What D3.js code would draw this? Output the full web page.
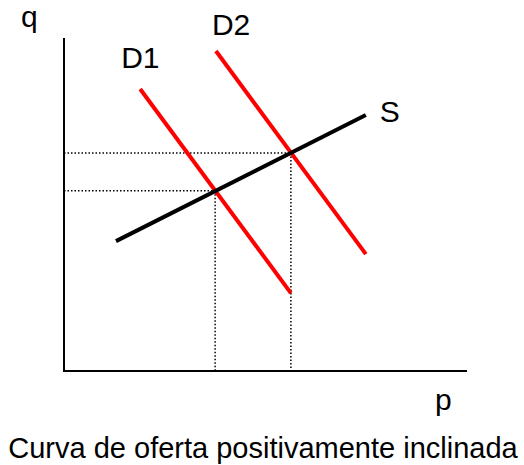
<!DOCTYPE html>
<head>
  <meta charset="utf-8">
  <script src="https://d3js.org/d3.v7.min.js"></script>
  <style>
    body { margin:0; background:#fff; }
    text { font-family: "Liberation Sans", Arial, sans-serif; fill:#000; }
  </style>
</head>
<body>
<script>

// curves, in chart units (0..100 on both axes)
var supply  = [ {x: 12.9, y: 39.0}, {x: 74.9, y: 76.9} ];
var demand1 = [ {x: 18.9, y: 84.7}, {x: 56.3, y: 23.4} ];
var demand2 = [ {x: 37.7, y: 96.1}, {x: 74.9, y: 35.1} ];
// equilibrium points (where the dotted guides go)
var equilibria = [ {x: 37.5, y: 54.1}, {x: 56.3, y: 65.5} ];
var curveLabels = ["D1", "D2", "S"];

var width = 524, height = 465;

var x = d3.scaleLinear().domain([0, 100]).range([64, 467]);
var y = d3.scaleLinear().domain([0, 100]).range([371, 38]);

var svg = d3.select("body").append("svg")
  .attr("width", width)
  .attr("height", height);

var line = d3.line()
  .x(function(d) { return x(d.x); })
  .y(function(d) { return y(d.y); });

// dotted guides
var guides = svg.append("g")
  .attr("stroke", "#000")
  .attr("stroke-width", 1.5)
  .attr("stroke-dasharray", "1.5,2");

guides.selectAll(".h").data(equilibria).enter().append("line")
  .attr("x1", x(0)).attr("x2", function(d) { return x(d.x); })
  .attr("y1", function(d) { return y(d.y); })
  .attr("y2", function(d) { return y(d.y); });

guides.selectAll(".v").data(equilibria).enter().append("line")
  .attr("x1", function(d) { return x(d.x); })
  .attr("x2", function(d) { return x(d.x); })
  .attr("y1", function(d) { return y(d.y); })
  .attr("y2", y(0));

// axes
svg.append("path")
  .attr("d", "M" + x(0) + "," + y(100) + "V" + y(0) + "H" + x(100))
  .attr("fill", "none")
  .attr("stroke", "#000")
  .attr("stroke-width", 2);

// curves
svg.append("path").datum(demand1)
  .attr("d", line).attr("stroke", "#ff0000").attr("stroke-width", 4).attr("fill", "none");
svg.append("path").datum(demand2)
  .attr("d", line).attr("stroke", "#ff0000").attr("stroke-width", 4).attr("fill", "none");
svg.append("path").datum(supply)
  .attr("d", line).attr("stroke", "#000").attr("stroke-width", 4).attr("fill", "none");

// labels
var fs = 30;
svg.append("text").attr("x", 21).attr("y", 27).attr("font-size", fs).text("q");
svg.append("text").attr("x", 435).attr("y", 410).attr("font-size", fs).text("p");
svg.append("text").attr("x", x(demand1[0].x) - 19).attr("y", 68).attr("font-size", fs).text(curveLabels[0]);
svg.append("text").attr("x", x(demand2[0].x) - 4).attr("y", 35).attr("font-size", fs).text(curveLabels[1]);
svg.append("text").attr("x", x(supply[1].x) + 14).attr("y", 122).attr("font-size", fs).text(curveLabels[2]);

svg.append("text")
  .attr("x", 263).attr("y", 458)
  .attr("text-anchor", "middle")
  .attr("font-size", 29)
  .text("Curva de oferta positivamente inclinada");

</script>
</body>
